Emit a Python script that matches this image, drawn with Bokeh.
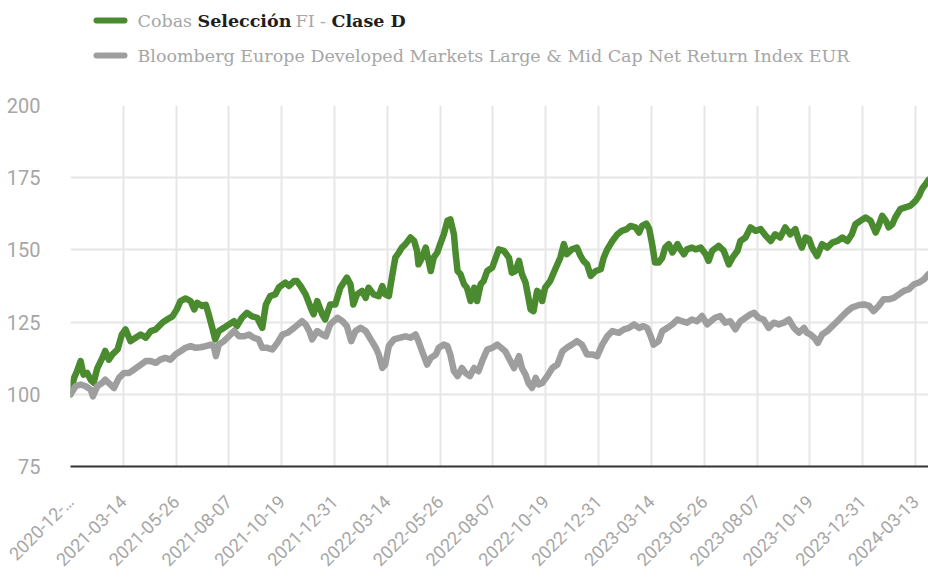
import math
from bokeh.plotting import figure
from bokeh.layouts import column
from bokeh.models import FixedTicker, Range1d
from bokeh.core.properties import value
from bokeh.embed import file_html
from bokeh.resources import INLINE

# ---------------- data ----------------
series_names = ["Cobas Selección FI - Clase D",
                "Bloomberg Europe Developed Markets Large & Mid Cap Net Return Index EUR"]

# days since 2020-12-31
cobas_days = [0, 5, 9, 14, 18, 23, 28, 32, 37, 44, 48, 53, 58, 65, 71, 76, 83, 90, 97, 104,
              111, 118, 127, 134, 141, 147, 152, 159, 166, 171, 175, 182, 187, 191, 196, 200, 205, 212, 219, 226,
              230, 237, 244, 251, 258, 265, 270, 276, 283, 288, 297, 302, 309, 313, 318, 325, 332, 336, 341, 348,
              352, 359, 366, 373, 382, 387, 391, 396, 403, 408, 412, 419, 426, 431, 435, 440, 445, 449, 454, 458,
              463, 470, 475, 479, 481, 486, 491, 495, 498, 502, 507, 511, 516, 521, 525, 530, 532, 535, 539, 544,
              548, 553, 558, 562, 567, 571, 576, 583, 592, 599, 606, 610, 615, 620, 624, 629, 633, 636, 640, 645,
              650, 652, 656, 663, 670, 677, 682, 686, 693, 700, 705, 709, 714, 719, 726, 733, 737, 742, 749, 756,
              762, 769, 774, 781, 786, 790, 796, 800, 804, 808, 813, 818, 822, 827, 832, 839, 843, 848, 852, 859,
              864, 871, 878, 882, 887, 896, 903, 910, 915, 922, 926, 933, 940, 947, 954, 961, 968, 974, 981, 988,
              995, 1002, 1007, 1011, 1016, 1021, 1025, 1032, 1039, 1046, 1053, 1060, 1067, 1074, 1080, 1085, 1092, 1099, 1106, 1113,
              1117, 1122, 1127, 1131, 1136, 1140, 1147, 1154, 1161, 1168, 1173, 1177, 1182, 1186]
cobas_values = [100, 105.7, 108, 111.5, 106.8, 107.4, 105, 104, 109, 112.6, 115, 112, 113.8, 115.5, 120.7, 122.5, 118.4, 119.6, 120.7, 119.6,
                121.9, 122.5, 124.8, 126, 127, 129.4, 132.3, 133.2, 132.3, 129.4, 131.7, 130.6, 131, 127.7, 123, 119, 121.9, 123, 124.2, 125.3,
                123.6, 126.5, 128.2, 127, 126.5, 123, 131, 134, 134.6, 137, 138.7, 137.5, 139.2, 139.2, 137.5, 134.6, 130, 127.7, 132.3, 127.7,
                125.9, 131.1, 131.1, 136.9, 140.4, 138.1, 131.1, 134.6, 135.8, 133.4, 136.9, 134.6, 134, 137.5, 134.6, 134, 141.6, 147.3, 149.1, 150.8,
                152, 154.3, 153.1, 149.7, 145, 147.3, 150.8, 146.2, 142.7, 147.3, 149.1, 152, 155.4, 160.1, 160.6, 155.4, 149.7, 142.7, 141.6, 138.1,
                136.9, 132.3, 136.9, 132.3, 138.1, 139.2, 142.7, 143.9, 150.2, 149.7, 147.3, 142.1, 142.7, 146.2, 141.6, 138.7, 133.4, 129.4, 128.8, 135.8,
                134.6, 132.3, 136.9, 139.2, 143.3, 147.3, 152, 148.5, 150.2, 150.8, 147.9, 146.2, 145, 141, 142.7, 143.3, 147.3, 150.2, 153.1, 155.4,
                156.6, 157.2, 158.3, 157.8, 156, 158.3, 159.1, 157.2, 152, 145.6, 145.6, 147.3, 150.8, 152, 149.1, 152, 150.2, 148.5, 150.2, 150.8,
                150.2, 150.8, 148.5, 146.2, 149.7, 151.4, 149.7, 145, 147.3, 149.7, 153.1, 154.3, 157.8, 156.6, 157.2, 154.9, 153.1, 155.4, 154.3, 157.8,
                155.4, 157.2, 153.1, 150.8, 154.3, 153.7, 150.8, 147.9, 152, 150.8, 152.5, 153.1, 154.3, 153.1, 155.4, 158.9, 160.1, 161.2, 160.1, 156,
                158.3, 161.8, 160.1, 157.8, 158.9, 161.2, 164.1, 164.7, 165.3, 167, 168.8, 171.1, 172.8, 174.2]

bbg_days = [0, 7, 14, 21, 28, 31, 37, 44, 48, 55, 60, 67, 74, 81, 88, 94, 104, 111, 118, 124,
            131, 138, 145, 152, 159, 166, 173, 180, 187, 194, 198, 201, 205, 212, 219, 226, 233, 240, 247, 253,
            260, 265, 272, 279, 286, 293, 300, 309, 320, 325, 330, 334, 341, 348, 353, 359, 369, 376, 382, 388,
            394, 401, 408, 415, 422, 426, 431, 435, 440, 447, 456, 463, 470, 477, 481, 486, 493, 498, 505, 509,
            516, 521, 525, 530, 535, 541, 546, 552, 558, 564, 569, 576, 583, 590, 601, 608, 613, 620, 624, 629,
            633, 638, 643, 647, 652, 659, 666, 673, 680, 686, 693, 700, 707, 714, 721, 728, 735, 742, 749, 758,
            765, 772, 779, 786, 792, 797, 802, 806, 813, 818, 825, 832, 839, 845, 852, 859, 866, 873, 880, 885,
            891, 898, 905, 912, 919, 926, 933, 940, 945, 951, 958, 965, 972, 979, 986, 993, 1000, 1007, 1014, 1018,
            1023, 1028, 1033, 1039, 1046, 1053, 1060, 1067, 1074, 1080, 1090, 1097, 1104, 1110, 1117, 1124, 1131, 1138, 1145, 1152,
            1159, 1166, 1173, 1180, 1186]
bbg_values = [100, 102.8, 103.4, 102.8, 101.6, 99.3, 102.8, 104, 105.1, 103.4, 102.2, 105.7, 107.4, 107.4, 108.6, 109.7, 111.5, 111.5, 110.9, 112,
              112.6, 112, 113.8, 114.9, 116.1, 116.7, 116.1, 116.3, 116.7, 117.2, 116.7, 113.2, 117.2, 118.4, 120.1, 121.9, 120.1, 120.1, 120.7, 119.6,
              119, 116.1, 116.1, 115.5, 117.8, 120.7, 121.3, 123, 125.3, 124.2, 121.9, 119, 121.9, 120.7, 120.1, 124.2, 126.5, 125.3, 123.6, 118.4,
              121.9, 123, 121.9, 119, 116.1, 113.8, 109.1, 110.3, 116.7, 119, 119.6, 120.1, 119.6, 120.7, 118.4, 114.9, 110.3, 112.6, 113.8, 116.1,
              117.2, 116.7, 113.8, 108, 106.3, 109.1, 107.4, 106.3, 109.1, 108, 111.5, 115.5, 116.1, 117.2, 114.9, 111.5, 109.1, 113.2, 109.1, 106.8,
              103.9, 102.2, 105.7, 103.4, 103.9, 106.3, 109.1, 110.3, 114.9, 116.1, 117.2, 118.4, 117.2, 113.8, 113.8, 113.2, 117.2, 120.1, 121.9, 121.3,
              122.5, 123, 124.2, 123, 123.6, 123, 120.1, 117.2, 118.4, 121.9, 123, 124.2, 125.9, 125.3, 124.8, 125.9, 125.3, 127.1, 124.2, 125.3,
              126.5, 127.1, 124.8, 125.3, 122.5, 125.3, 126.5, 127.7, 128.2, 126.5, 125.9, 123, 124.8, 124.2, 124.8, 125.9, 123, 121.3, 123, 121.3,
              120.7, 119.6, 117.8, 120.7, 121.9, 123.6, 125.3, 127.1, 128.8, 130, 130.9, 131.1, 130.6, 128.8, 130.6, 132.9, 132.9, 133.4, 134.6, 135.8,
              136.4, 138.1, 138.7, 139.8, 141.6]

tick_days = [0, 73, 146, 219, 292, 365, 438, 511, 584, 657, 730, 803, 876, 949, 1022, 1095, 1168]
tick_labels = ["2020-12-…", "2021-03-14", "2021-05-26", "2021-08-07", "2021-10-19", "2021-12-31",
               "2022-03-14", "2022-05-26", "2022-08-07", "2022-10-19", "2022-12-31", "2023-03-14",
               "2023-05-26", "2023-08-07", "2023-10-19", "2023-12-31", "2024-03-13"]
y_ticks = [75, 100, 125, 150, 175, 200]

GREEN = "#4b8b30"
GREY = "#9e9e9e"
TXT = "#a6a6a6"
DARK = "#1e1e1e"

W = 928
LEFT = 70
LEG_H = 88
MAIN_H = 492

# ---------------- legend strip (data units = page pixels) ----------------
leg = figure(width=W, height=LEG_H, x_range=Range1d(LEFT, W), y_range=Range1d(0, LEG_H),
             toolbar_location=None, output_backend="svg",
             min_border_left=LEFT, min_border_right=0, min_border_top=0, min_border_bottom=0,
             x_axis_location=None, y_axis_location=None)
leg.grid.visible = False
leg.outline_line_color = None

row1_y, row2_y = LEG_H - 20, LEG_H - 55
leg.line([96, 124], [row1_y, row1_y], line_width=6, line_color=GREEN, line_cap="round")
leg.line([96, 124], [row2_y, row2_y], line_width=6, line_color=GREY, line_cap="round")

FS = "17.5px"
row1_parts = [("Cobas", "normal", TXT, 137), ("Selección", "bold", DARK, 197),
              ("FI -", "normal", TXT, 295), ("Clase D", "bold", DARK, 331)]
for txt, style, col, x0 in row1_parts:
    leg.text(x=[x0], y=[row1_y], text=[txt], text_font=value("DejaVu Serif"),
             text_font_size=FS, text_font_style=style, text_color=col,
             text_baseline="middle", text_align="left")
leg.text(x=[137], y=[row2_y], text=[series_names[1]], text_font=value("DejaVu Serif"),
         text_font_size=FS, text_color=TXT, text_baseline="middle", text_align="left")

# ---------------- main chart ----------------
p = figure(width=W, height=MAIN_H, x_range=Range1d(0, 1186), y_range=Range1d(75, 200),
           toolbar_location=None, output_backend="svg",
           min_border_left=LEFT, min_border_right=0, min_border_top=17, min_border_bottom=0)
p.outline_line_color = None

p.line(cobas_days, cobas_values, line_color=GREEN, line_width=6.5, line_join="round", line_cap="round")
p.line(bbg_days, bbg_values, line_color=GREY, line_width=6.5, line_join="round", line_cap="round")

p.xaxis.ticker = FixedTicker(ticks=tick_days)
p.xaxis.major_label_overrides = {d: lab for d, lab in zip(tick_days, tick_labels)}
p.xaxis.major_label_orientation = math.pi / 4
p.xaxis.major_label_text_font = "Roboto"
p.xaxis.major_label_text_font_size = "18px"
p.xaxis.major_label_text_color = TXT
p.xaxis.major_label_standoff = 26
p.xaxis.axis_line_color = "#333333"
p.xaxis.axis_line_width = 2
p.xaxis.major_tick_line_color = None
p.xaxis.minor_tick_line_color = None

p.yaxis.ticker = FixedTicker(ticks=y_ticks)
p.yaxis.major_label_text_font = "Roboto"
p.yaxis.major_label_text_font_size = "20px"
p.yaxis.major_label_text_color = TXT
p.yaxis.major_label_standoff = 24
p.yaxis.axis_line_color = None
p.yaxis.major_tick_line_color = None
p.yaxis.minor_tick_line_color = None

p.xgrid.ticker = FixedTicker(ticks=tick_days)
p.ygrid.ticker = FixedTicker(ticks=y_ticks)
p.grid.grid_line_color = "#e6e6e6"
p.grid.grid_line_width = 2

layout = column(leg, p, spacing=0)
open("out.html", "w").write(file_html(layout, INLINE))
